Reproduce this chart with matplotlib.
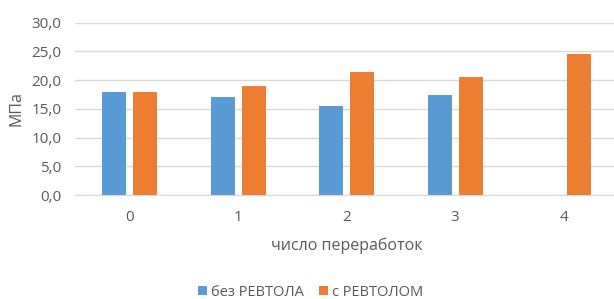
import numpy as np
import matplotlib.pyplot as plt

# данные
categories = ['0', '1', '2', '3', '4']
bez_revtola = [18.0, 17.0, 15.5, 17.5, np.nan]
s_revtolom = [18.0, 19.0, 21.5, 20.5, 24.5]
yticks = [0, 5, 10, 15, 20, 25, 30]

plt.rcParams['font.family'] = ['Open Sans', 'DejaVu Sans']
grey = '#595959'

fig = plt.figure(figsize=(6.14, 2.99), dpi=100)
ax = fig.add_axes([0.1226, 0.3478, 0.8836, 0.576])

x = np.arange(len(categories))
w = 0.221
ax.bar(x - 0.143, bez_revtola, w, color='#5B9BD5', label='без РЕВТОЛА', zorder=3)
ax.bar(x + 0.143, s_revtolom, w, color='#ED7D31', label='с РЕВТОЛОМ', zorder=3)

ax.set_xlim(-0.5, len(categories) - 0.5)
ax.set_ylim(0, 30)
ax.set_yticks(yticks)
ax.set_yticklabels([f'{v:.1f}'.replace('.', ',') for v in yticks])
ax.set_xticks(x)
ax.set_xticklabels(categories)
ax.yaxis.grid(True, color='#D9D9D9', linewidth=1, zorder=0)
for s in ['top', 'right', 'left']:
    ax.spines[s].set_visible(False)
ax.spines['bottom'].set_color('#D9D9D9')
ax.tick_params(axis='both', length=0, colors=grey, labelsize=11)
ax.tick_params(axis='x', pad=11)
ax.tick_params(axis='y', pad=10)

ax.set_ylabel('МПа', color=grey, fontsize=11.5, labelpad=5)
ax.set_xlabel('число переработок', color=grey, fontsize=11.5, labelpad=9)

leg = fig.legend(loc='center', bbox_to_anchor=(0.506, 0.023), ncol=2, frameon=False,
                 fontsize=10.5, handlelength=0.6, handleheight=0.6, columnspacing=1.0,
                 handletextpad=0.3)
for t in leg.get_texts():
    t.set_color(grey)

fig.savefig('out.png', dpi=100)
